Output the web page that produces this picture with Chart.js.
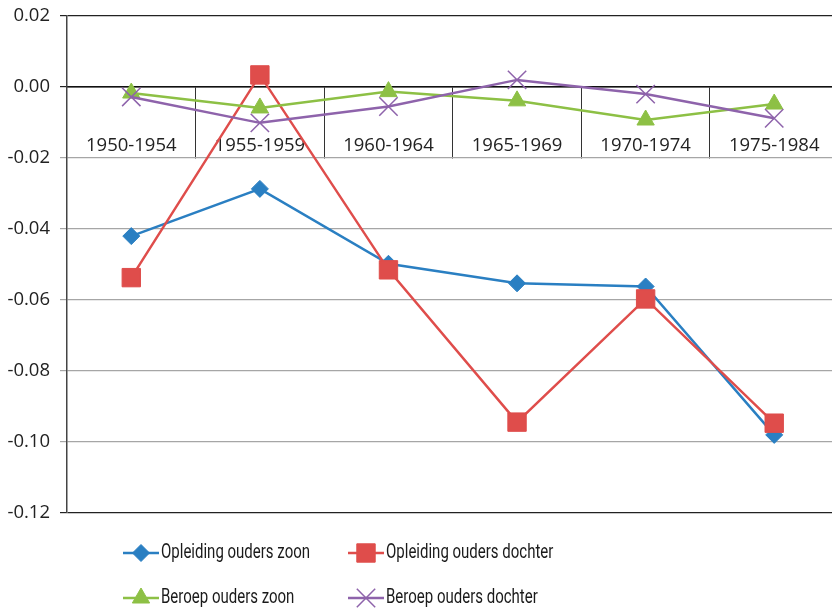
<!DOCTYPE html>
<html>
<head>
<meta charset="utf-8">
<script src="https://cdn.jsdelivr.net/npm/chart.js@4/dist/chart.umd.min.js"></script>
<style>
  html, body { margin: 0; padding: 0; overflow: hidden; background: #fff; }
  canvas { display: block; }
</style>
</head>
<body>
<canvas id="myChart" width="840" height="610"></canvas>
<script>
"use strict";

const cohortLabels = ["1950-1954", "1955-1959", "1960-1964", "1965-1969", "1970-1974", "1975-1984"];
const seriesNames = [
  "Opleiding ouders zoon",
  "Opleiding ouders dochter",
  "Beroep ouders zoon",
  "Beroep ouders dochter",
];
const opleidingZoon = [-0.042, -0.0287, -0.0498, -0.0553, -0.0562, -0.098];
const opleidingDochter = [-0.0537, 0.0034, -0.0515, -0.0944, -0.0597, -0.0947];
const beroepZoon = [-0.0017, -0.0059, -0.0013, -0.0039, -0.0093, -0.0048];
const beroepDochter = [-0.0028, -0.0101, -0.0055, 0.002, -0.002, -0.0088];
const yTicks = [0.02, 0.0, -0.02, -0.04, -0.06, -0.08, -0.1, -0.12];

Chart.defaults.font.family = "'Open Sans', 'Noto Sans', sans-serif";
Chart.defaults.color = "#222";

// legend drawn as two columns with a line segment and marker per series
const columnLegend = {
  id: "columnLegend",
  afterDraw(chart) {
    const ctx = chart.ctx;
    const cols = [123, 348];
    const rows = [553, 598];
    chart.data.datasets.forEach((ds, i) => {
      const x = cols[i % 2];
      const y = rows[Math.floor(i / 2)];
      ctx.save();
      ctx.strokeStyle = ds.borderColor;
      ctx.lineWidth = ds.borderWidth;
      ctx.beginPath();
      ctx.moveTo(x, y);
      ctx.lineTo(x + 36, y);
      ctx.stroke();
      ctx.fillStyle = ds.pointBackgroundColor;
      ctx.strokeStyle = ds.pointBorderColor;
      ctx.lineWidth = ds.pointBorderWidth;
      Chart.helpers.drawPoint(ctx, {
        pointStyle: ds.pointStyle,
        radius: ds.pointRadius,
        borderWidth: ds.pointBorderWidth,
        rotation: 0,
      }, x + 18, y);
      // narrow the text a little, the labels are set in a condensed face
      ctx.translate(x + 38, y);
      ctx.scale(0.75, 1);
      ctx.fillStyle = "#1a1a1a";
      ctx.font = "20px Roboto, sans-serif";
      ctx.textBaseline = "middle";
      ctx.textAlign = "left";
      ctx.fillText(ds.label, 0, 0);
      ctx.restore();
    });
  },
};

function lineSeries(label, data, color, style, radius, order) {
  return {
    label: label,
    data: data,
    borderColor: color,
    backgroundColor: color,
    borderWidth: 2.5,
    pointStyle: style,
    pointRadius: radius,
    pointHoverRadius: radius,
    pointBackgroundColor: color,
    pointBorderColor: color,
    pointBorderWidth: style === "crossRot" ? 1.5 : 1,
    tension: 0,
    clip: false,
    order: order,
  };
}

const ctx = document.getElementById("myChart").getContext("2d");
const myChart = new Chart(ctx, {
  type: "line",
  data: {
    labels: cohortLabels,
    datasets: [
      lineSeries(seriesNames[0], opleidingZoon, "#2a7fc2", "rectRot", 8.5, 4),
      lineSeries(seriesNames[1], opleidingDochter, "#df4d4b", "rect", 13, 3),
      lineSeries(seriesNames[2], beroepZoon, "#8dc045", "triangle", 10, 2),
      lineSeries(seriesNames[3], beroepDochter, "#8e63ab", "crossRot", 13, 1),
    ],
  },
  options: {
    responsive: false,
    animation: false,
    layout: {
      autoPadding: false,
      padding: { top: 16, right: 1.5, bottom: 97, left: 0 },
    },
    plugins: {
      legend: { display: false },
      tooltip: { enabled: false },
    },
    scales: {
      x: {
        type: "category",
        position: { y: 0 },
        offset: true,
        afterFit(scale) {
          scale.paddingLeft = 0;
          scale.paddingRight = 0;
        },
        grid: {
          offset: true,
          drawOnChartArea: false,
          drawTicks: true,
          tickLength: 71,
          color: "#333",
          lineWidth: 1,
        },
        border: { display: true, color: "#111", width: 1.5 },
        ticks: {
          padding: -23,
          maxRotation: 0,
          autoSkip: false,
          font: { size: 18.5 },
        },
      },
      y: {
        min: -0.12,
        max: 0.02,
        afterFit(scale) {
          scale.width = 67;
          scale.paddingTop = 0;
          scale.paddingBottom = 0;
        },
        afterBuildTicks(scale) {
          scale.ticks = yTicks.map((v) => ({ value: v }));
        },
        grid: {
          drawTicks: true,
          tickLength: 7,
          lineWidth: 1.2,
          color(c) {
            const v = c.tick ? c.tick.value : 1;
            if (Math.abs(v) < 1e-9 || Math.abs(v - 0.02) < 1e-9 || Math.abs(v + 0.12) < 1e-9) {
              return "#222";
            }
            return "#a6a6a6";
          },
        },
        border: { display: true, color: "#444", width: 1.5 },
        ticks: {
          padding: 10,
          font: { size: 18.5 },
          callback: (v) => Number(v).toFixed(2),
        },
      },
    },
  },
  plugins: [columnLegend],
});
</script>
</body>
</html>
